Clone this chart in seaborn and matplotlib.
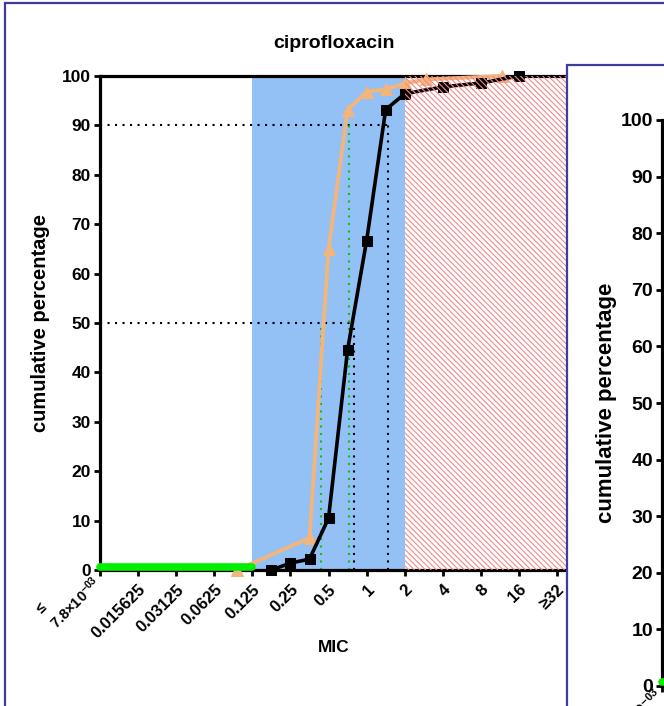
import matplotlib
matplotlib.use("Agg")
import matplotlib.pyplot as plt
import seaborn as sns
import pandas as pd
from matplotlib.patches import Rectangle

# x axis is log2(MIC); tick positions and labels
tick_log2 = [-7, -6, -5, -4, -3, -2, -1, 0, 1, 2, 3, 4, 5]
tick_labels = ["≤\n7.8×10$^{-03}$", "0.015625", "0.03125", "0.0625", "0.125",
               "0.25", "0.5", "1", "2", "4", "8", "16", "≥32"]

# cumulative distribution, black squares
black_log2 = [-2.5, -2, -1.5, -1, -0.5, 0, 0.5, 1, 2, 3, 4]
black_cum = [0, 1.4, 2.2, 10.5, 44.6, 66.7, 93.2, 96.4, 97.8, 98.6, 100]

# cumulative distribution, orange triangles
orange_log2 = [-3.4, -1.5, -1, -0.5, 0, 0.5, 1, 1.55, 3.55]
orange_cum = [0, 6.5, 65, 93.1, 96.8, 97.3, 98.5, 99.3, 100]

# MIC50 / MIC90 read-offs (log2)
black_mic50, black_mic90 = -0.33, 0.55
orange_mic50, orange_mic90 = -1.2, -0.46

# shaded ranges (log2)
blue_range = [-3, 1]
resist_from = 1
green_x = [-7, -3]
green_y = [0.7, 0.7]

X_MAX = 5.26
W, H = 664, 706
FRAME = "#3d3d9e"

sns.set_theme(style="ticks")
plt.rcParams["font.family"] = ["Liberation Sans", "DejaVu Sans"]
plt.rcParams["font.weight"] = "bold"
plt.rcParams["axes.labelweight"] = "bold"
plt.rcParams["axes.titleweight"] = "bold"
plt.rcParams["mathtext.default"] = "regular"
plt.rcParams["hatch.linewidth"] = 0.8
for key in ["text.color", "axes.labelcolor", "xtick.color", "ytick.color"]:
    plt.rcParams[key] = "black"

fig = plt.figure(figsize=(W / 100, H / 100), dpi=100)


def px_axes(x0, y0, x1, y1):
    return fig.add_axes([x0 / W, 1 - y1 / H, (x1 - x0) / W, (y1 - y0) / H])


def style_axis(a, size):
    for s in ["left", "bottom", "top"]:
        a.spines[s].set_linewidth(2.3)
        a.spines[s].set_color("black")
    a.spines["right"].set_visible(False)
    a.tick_params(direction="out", length=4.5, width=2.0, labelsize=size,
                  colors="black", pad=2)
    a.set_ylim(0, 100)
    a.set_yticks(range(0, 101, 10))
    a.set_xlim(-7, X_MAX)
    a.set_facecolor("white")


def first_label_style(a, size):
    # two-line "≤ / 7.8x10^-03" label: last line sits on the tick
    lab = a.get_xticklabels()[0]
    lab.set_fontsize(size)
    lab.set_multialignment("left")
    lab.set_verticalalignment("baseline")


ax = px_axes(100, 76, 567, 570)
style_axis(ax, 12.5)
ax.tick_params(axis="x", top=False, labelsize=12, pad=4)

ax.axvspan(blue_range[0], blue_range[1], color="#93c0f5", lw=0, zorder=0.5)
ax.axvspan(resist_from, X_MAX, facecolor="none", edgecolor="#f38888",
           hatch="\\\\\\\\\\\\", lw=0, zorder=4)

dot = (0, (1, 2.6))
ax.plot([-7, black_mic90], [90, 90], color="black", lw=1.5, ls=dot, zorder=2)
ax.plot([-7, black_mic50], [50, 50], color="black", lw=1.5, ls=dot, zorder=2)
ax.plot([black_mic90] * 2, [0, 90], color="black", lw=1.5, ls=dot, zorder=2)
ax.plot([black_mic50] * 2, [0, 50], color="black", lw=1.5, ls=dot, zorder=2)
ax.plot([orange_mic90] * 2, [0, 90], color="#10c010", lw=1.5, ls=dot, zorder=2)
ax.plot([orange_mic50] * 2, [0, 50], color="#10c010", lw=1.5, ls=dot, zorder=2)

orange = pd.DataFrame({"mic": orange_log2, "cum": orange_cum})
black = pd.DataFrame({"mic": black_log2, "cum": black_cum})
sns.lineplot(data=orange, x="mic", y="cum", ax=ax, color="#f2b57c", lw=2.8,
             marker="^", markersize=8.5, markeredgecolor="#f2b57c",
             sort=False, clip_on=False, zorder=3)
sns.lineplot(data=black, x="mic", y="cum", ax=ax, color="black", lw=2.6,
             marker="s", markersize=7.5, markeredgecolor="black",
             sort=False, clip_on=False, zorder=3.2)

ax.plot(green_x, green_y, color="#00f000", lw=5.5, solid_capstyle="round",
        clip_on=False, zorder=5)

ax.set_xticks(tick_log2)
ax.set_xticklabels(tick_labels, rotation=45, ha="right", va="top",
                   rotation_mode="anchor")
first_label_style(ax, 10.5)
ax.set_title("ciprofloxacin", fontsize=14, pad=20)
ax.set_ylabel("cumulative percentage", fontsize=14.5)
ax.set_xlabel("MIC", fontsize=12.5)
ax.yaxis.set_label_coords(-0.106, 0.5)
ax.xaxis.set_label_coords(0.5, -0.142)

# outer frame of the first panel
fig.add_artist(Rectangle((5 / W, -0.1), 1.2, 1 - 3 / H + 0.1,
                         transform=fig.transFigure, fill=False,
                         edgecolor=FRAME, lw=1.6, zorder=1))
# second panel overlapping at the right
fig.add_artist(Rectangle((567 / W, -0.1), 1.0, 1 - 65 / H + 0.1,
                         transform=fig.transFigure, facecolor="white",
                         edgecolor=FRAME, lw=1.6, zorder=1))

ax2 = px_axes(662, 120, 900, 686)
ax2.set_zorder(3)
style_axis(ax2, 14)
ax2.spines["top"].set_visible(False)
ax2.plot(green_x, green_y, color="#00f000", lw=5.5, solid_capstyle="round",
         clip_on=False, zorder=5)
ax2.set_xticks(tick_log2[:1])
ax2.set_xticklabels(tick_labels[:1], rotation=45, ha="right", va="top",
                    rotation_mode="anchor")
first_label_style(ax2, 11.5)
ax2.set_ylabel("cumulative percentage", fontsize=16)
ax2.yaxis.set_label_coords(-0.19, 0.5)

fig.savefig("out.png", dpi=100)
